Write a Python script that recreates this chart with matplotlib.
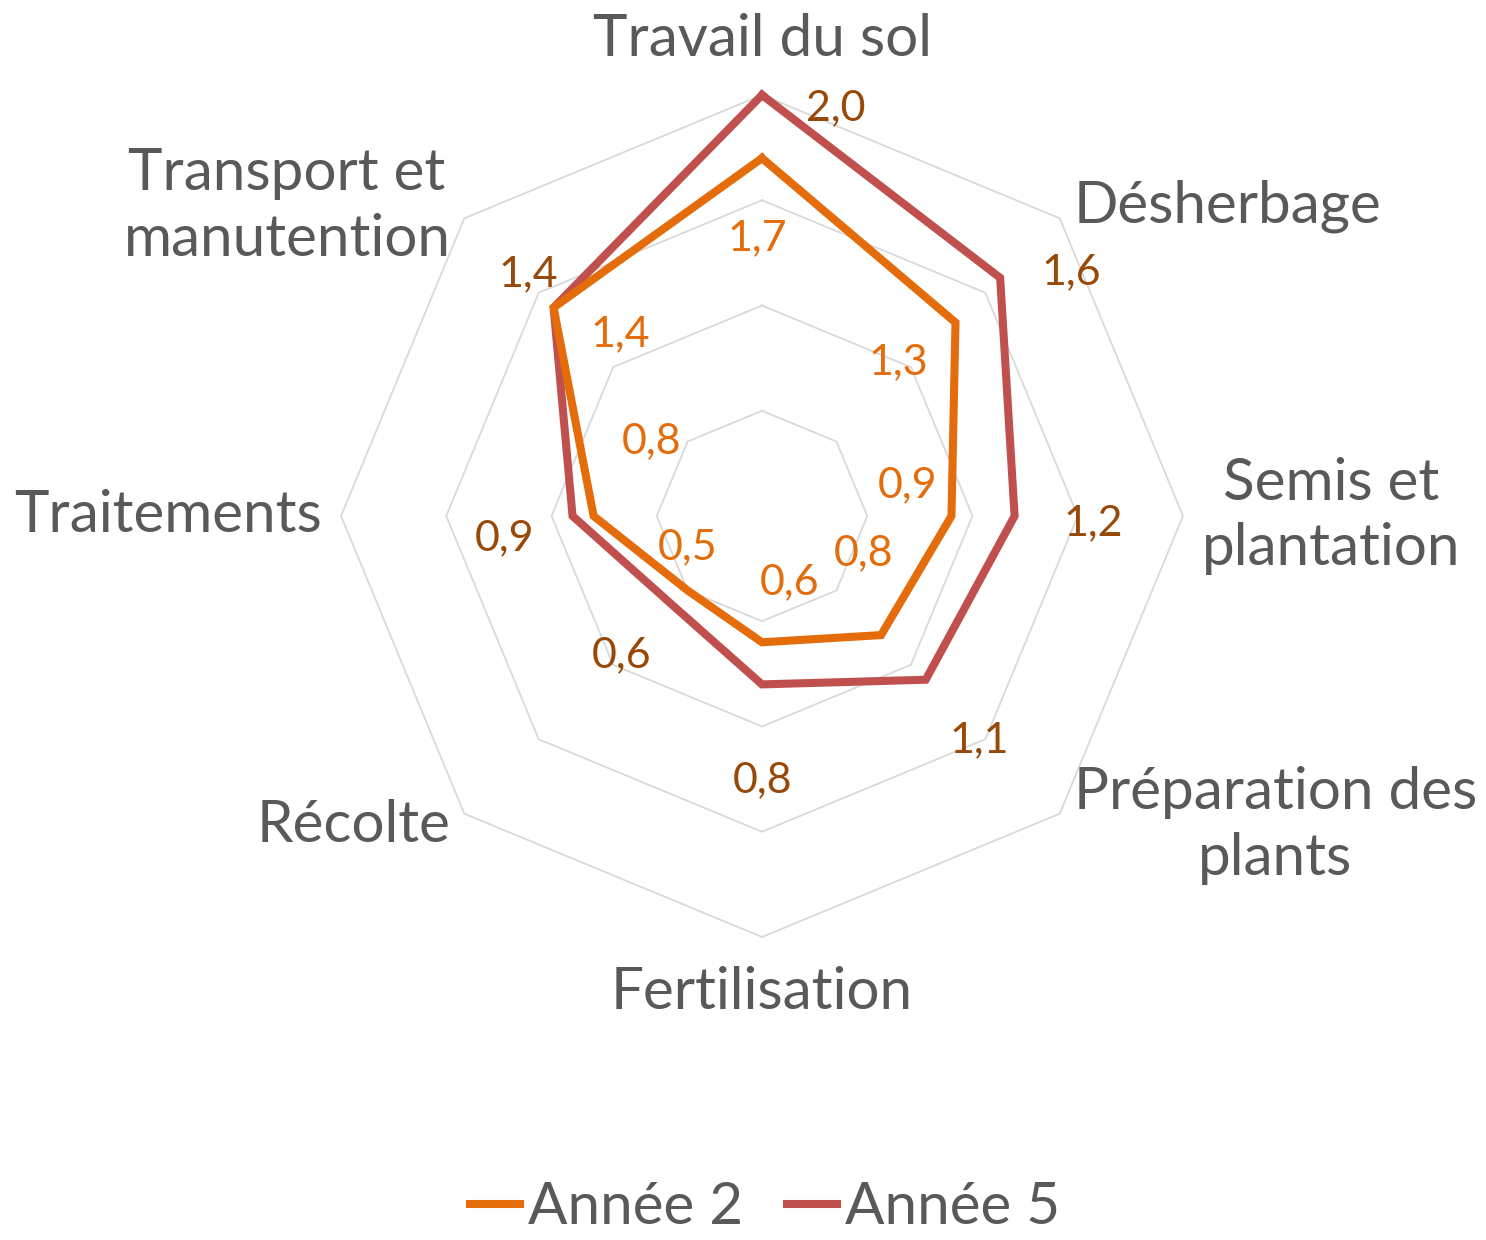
import numpy as np
import matplotlib.pyplot as plt

plt.rcParams['font.family'] = ['Lato', 'DejaVu Sans']

categories = ["Travail du sol", "Désherbage", "Semis et\nplantation", "Préparation des\nplants",
              "Fertilisation", "Récolte", "Traitements", "Transport et\nmanutention"]
annee2 = [1.7, 1.3, 0.9, 0.8, 0.6, 0.5, 0.8, 1.4]
annee5 = [2.0, 1.6, 1.2, 1.1, 0.8, 0.6, 0.9, 1.4]
labels2 = ["1,7", "1,3", "0,9", "0,8", "0,6", "0,5", "0,8", "1,4"]
labels5 = ["2,0", "1,6", "1,2", "1,1", "0,8", "0,6", "0,9", "1,4"]
rings = [0.5, 1.0, 1.5, 2.0]

# label placement (angle in degrees, radius)
pos2 = [(91, 1.32), (48.6, 0.976), (12, 0.709), (-20, 0.511), (-67, 0.34), (203, 0.383), (146, 0.634), (128, 1.093)]
pos5 = [(79.7, 1.97), (38.3, 1.87), (-1.2, 1.573), (-45.9, 1.48), (-89.8, 1.254), (224.6, 0.94), (185, 1.226), (134, 1.6)]

c2, c5 = '#E46C0A', '#C0504D'
lc2, lc5 = '#E46C0A', '#984807'
gray = '#595959'

n = len(categories)
ang = np.deg2rad(90 - 45 * np.arange(n))

fig = plt.figure(figsize=(14.86, 12.4), dpi=100)
ax = fig.add_axes([0, 0, 1, 1])
s = 210.5
ax.set_xlim(-762 / s, (1486 - 762) / s)
ax.set_ylim(-(1240 - 516) / s, 516 / s)
ax.axis('off')

def closed(vals):
    v = np.array(vals + vals[:1])
    a = np.append(ang, ang[0])
    return v * np.cos(a), v * np.sin(a)

for r in rings:
    x, y = closed([r] * n)
    ax.plot(x, y, color='#D9D9D9', lw=1.3, zorder=1)

x, y = closed(annee2)
ax.plot(x, y, color=c2, lw=5.8, solid_joinstyle='miter', zorder=3, label='Année 2')
x, y = closed(annee5)
ax.plot(x, y, color=c5, lw=5.8, solid_joinstyle='miter', zorder=2, label='Année 5')

for txt, (a, r) in zip(labels2, pos2):
    a = np.deg2rad(a)
    ax.text(r * np.cos(a), r * np.sin(a), txt, color=lc2, fontsize=31, ha='center', va='center', zorder=4)
for txt, (a, r) in zip(labels5, pos5):
    a = np.deg2rad(a)
    ax.text(r * np.cos(a), r * np.sin(a), txt, color=lc5, fontsize=31, ha='center', va='center', zorder=4)

for i, cat in enumerate(categories):
    a = ang[i]
    cx, cy = np.cos(a), np.sin(a)
    if abs(cx) < 0.01:
        ax.text(0, 2.14 * np.sign(cy), cat, color=gray, fontsize=42, ha='center',
                va='bottom' if cy > 0 else 'top')
    else:
        if abs(cy) < 0.01:
            px, py = 2.09 * np.sign(cx), 0
        else:
            px, py = 1.48 * np.sign(cx), 1.47 * np.sign(cy)
        ax.text(px, py, cat, color=gray, fontsize=42, ha='left' if cx > 0 else 'right',
                va='center', multialignment='center', linespacing=1.3)

fig.legend(loc='center', bbox_to_anchor=(0.515, 0.026), ncol=2, frameon=False, fontsize=42,
           handlelength=0.85, handletextpad=0.15, columnspacing=0.75, labelcolor=gray)

fig.savefig('out.png', dpi=100)
